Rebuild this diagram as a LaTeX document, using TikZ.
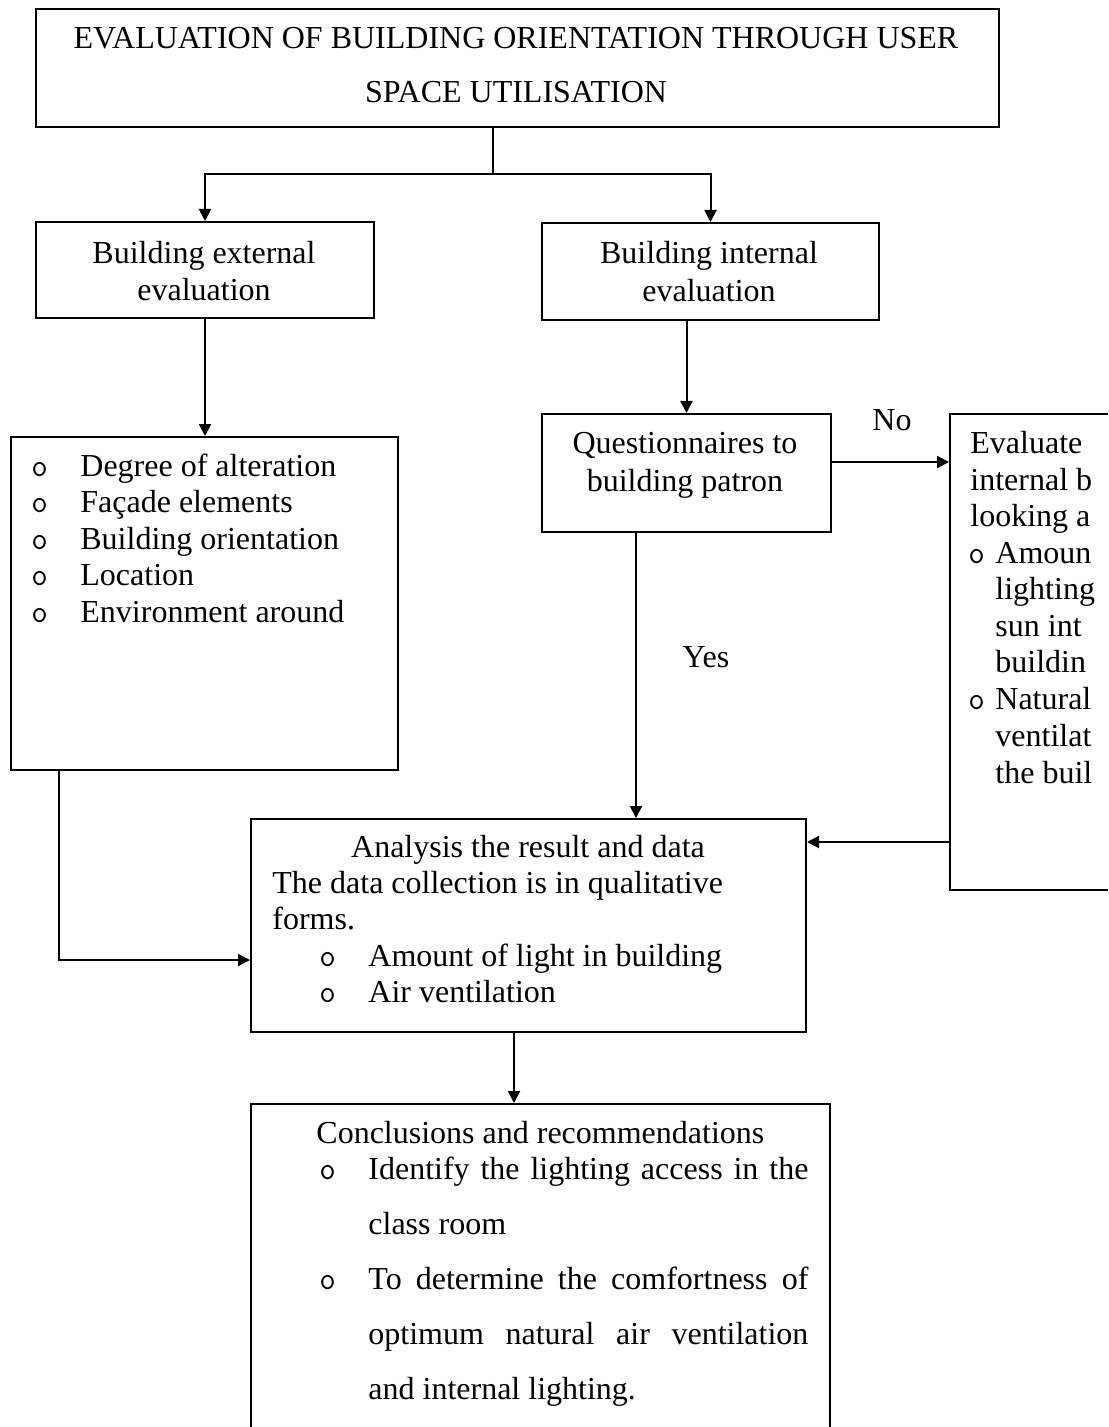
\documentclass[tikz,border=0pt]{standalone}
\usepackage{fontspec}
\setmainfont{Liberation Serif}
\usetikzlibrary{arrows.meta,calc}
\begin{document}
\begin{tikzpicture}[x=0.5pt,y=-0.5pt,
  box/.style={draw,line width=1pt,inner sep=0pt,anchor=north west},
  txt/.style={inner sep=0pt,anchor=mid west,yshift=-3pt,font=\fontsize{16}{18}\selectfont},
  ctxt/.style={inner sep=0pt,anchor=mid,yshift=-3pt,font=\fontsize{16}{18}\selectfont},
  bul/.style={inner sep=0pt,anchor=mid west,yshift=-3pt,font=\fontsize{16}{18}\ttfamily},
  arr/.style={line width=1pt,-{Triangle[length=6pt,width=6pt]}},
  ln/.style={line width=1pt}]
\useasboundingbox (0,0) rectangle (1108,1427);
\clip (0,0) rectangle (1108,1427);
\fill[white] (0,0) rectangle (1108,1427);

% boxes
\node[box,minimum width=481.5pt,minimum height=59pt] (title) at (35,8) {};
\node[box,minimum width=169pt,minimum height=48pt] (ext) at (35,221) {};
\node[box,minimum width=168.5pt,minimum height=48.5pt] (int) at (541,222) {};
\node[box,minimum width=193.5pt,minimum height=166.5pt] (list) at (10,436) {};
\node[box,minimum width=144.5pt,minimum height=59pt] (quest) at (541,413) {};
\node[box,minimum width=150pt,minimum height=238pt] (right) at (949,413) {};
\node[box,minimum width=277.5pt,minimum height=106.5pt] (anal) at (250,818) {};
\node[box,minimum width=289.5pt,minimum height=200pt] (concl) at (250,1103) {};

% title text
\node[ctxt] (t1) at (516,38) {EVALUATION OF BUILDING ORIENTATION THROUGH USER};
\node[ctxt] (t2) at (516,92) {SPACE UTILISATION};

% ext / int
\node[ctxt] (e1) at (204,253) {Building external};
\node[ctxt] (e2) at (204,290) {evaluation};
\node[ctxt] (i1) at (709,253) {Building internal};
\node[ctxt] (i2) at (709,291) {evaluation};

% list
\foreach \yy/\tt [count=\k] in {466/Degree of alteration,502/Façade elements,539/Building orientation,575/Location,612/Environment around}{
  \node[bul] (lb\k) at (31,\yy) {o};
  \node[txt] (lt\k) at (80,\yy) {\tt};
}

% questionnaire
\node[ctxt] (q1) at (685,443) {Questionnaires to};
\node[ctxt] (q2) at (685,481) {building patron};

% labels
\node[ctxt] (no) at (892,420) {No};
\node[ctxt] (yes) at (706,657) {Yes};

% right (clipped) box
\node[txt] (r1) at (970,443) {Evaluate};
\node[txt] (r2) at (970,480) {internal b};
\node[txt] (r3) at (970,516) {looking a};
\node[bul] (rb1) at (968,553) {o};
\node[txt] (r4) at (995,553) {Amoun};
\node[txt] (r5) at (995,589) {lighting};
\node[txt] (r6) at (995,626) {sun int};
\node[txt] (r7) at (995,662) {buildin};
\node[bul] (rb2) at (968,699) {o};
\node[txt] (r8) at (995,699) {Natural};
\node[txt] (r9) at (995,736) {ventilat};
\node[txt] (r10) at (995,773) {the buil};

% analysis
\node[ctxt] (a1) at (528,847) {Analysis the result and data};
\node[txt] (a2) at (272,883) {The data collection is in qualitative};
\node[txt] (a3) at (272,919) {forms.};
\node[bul] (ab1) at (319,956) {o};
\node[txt] (a4) at (368,956) {Amount of light in building};
\node[bul] (ab2) at (319,992) {o};
\node[txt] (a5) at (368,992) {Air ventilation};

% conclusions
\node[txt] (c1) at (316,1133) {Conclusions and recommendations};
\node[bul] (cb1) at (319,1169) {o};
\node[txt] (c2) at (368,1169) {\makebox[220pt][s]{Identify the lighting access in the}};
\node[txt] (c3) at (368,1224) {class room};
\node[bul] (cb2) at (319,1279) {o};
\node[txt] (c4) at (368,1279) {\makebox[220pt][s]{To determine the comfortness of}};
\node[txt] (c5) at (368,1334) {\makebox[220pt][s]{optimum natural air ventilation}};
\node[txt] (c6) at (368,1389) {and internal lighting.};

% helper coordinates
\coordinate (tap) at (493,174);
\coordinate (qy) at (0,462);
\coordinate (yx) at (636,0);
\coordinate (ry) at (0,842);
\coordinate (lc) at (59,960);
\coordinate (ac) at (514,0);

% connectors
\draw[ln] (tap |- title.south) -- (tap);
\draw[arr] (tap) -| (ext.north);
\draw[arr] (tap) -| (int.north);
\draw[arr] (ext.south) -- (ext.south |- list.north);
\draw[arr] (int.south -| quest.north) -- (quest.north);
\draw[arr] (quest.east |- qy) -- (right.west |- qy);
\draw[arr] (quest.south -| yx) -- (anal.north -| yx);
\draw[arr] (right.west |- ry) -- (anal.east |- ry);
\draw[arr] (list.south -| lc) |- (anal.west |- lc);
\draw[arr] (anal.south -| ac) -- (concl.north -| ac);
\end{tikzpicture}
\end{document}
